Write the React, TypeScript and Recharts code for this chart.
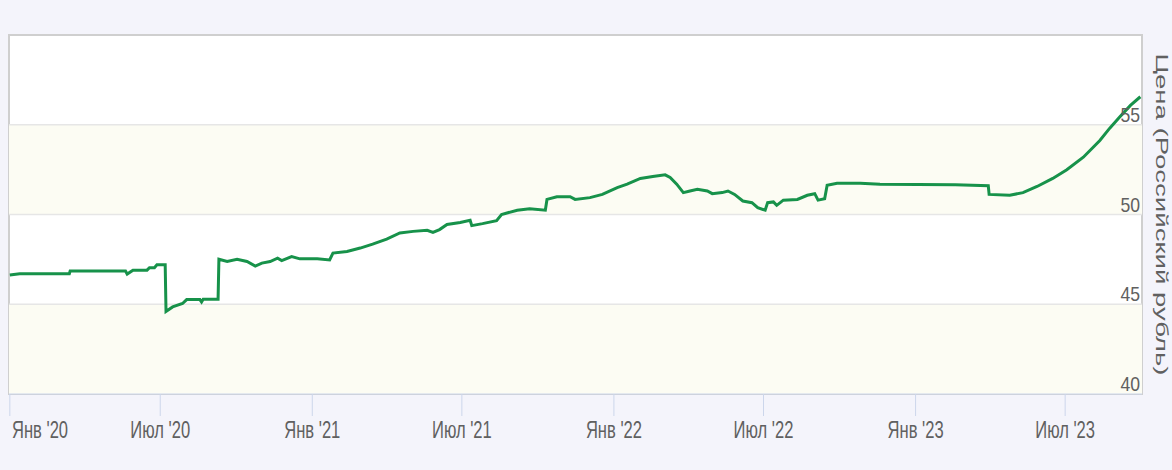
import React from 'react';
import { LineChart, Line, XAxis, YAxis, ReferenceArea, ReferenceLine, Label } from 'recharts';

const dates = [
  '2020-01-01', '2020-01-13', '2020-03-13', '2020-03-14', '2020-05-20', '2020-05-22', '2020-05-29',
  '2020-06-15', '2020-06-18', '2020-06-24', '2020-06-27', '2020-07-07', '2020-07-08', '2020-07-16',
  '2020-07-28', '2020-08-02', '2020-08-18', '2020-08-20', '2020-08-22', '2020-09-09', '2020-09-10',
  '2020-09-20', '2020-10-02', '2020-10-14', '2020-10-24', '2020-11-01', '2020-11-11', '2020-11-20',
  '2020-11-25', '2020-12-07', '2020-12-17', '2021-01-07', '2021-01-22', '2021-01-26', '2021-02-12',
  '2021-02-28', '2021-03-15', '2021-04-01', '2021-04-17', '2021-05-03', '2021-05-20', '2021-05-27',
  '2021-06-04', '2021-06-13', '2021-06-29', '2021-07-11', '2021-07-13', '2021-07-26', '2021-08-12',
  '2021-08-18', '2021-09-06', '2021-09-21', '2021-10-10', '2021-10-12', '2021-10-24', '2021-11-09',
  '2021-11-15', '2021-12-03', '2021-12-18', '2022-01-05', '2022-01-17', '2022-02-02', '2022-02-17',
  '2022-03-04', '2022-03-10', '2022-03-18', '2022-03-26', '2022-04-03', '2022-04-12', '2022-04-24',
  '2022-04-30', '2022-05-12', '2022-05-19', '2022-05-27', '2022-06-06', '2022-06-17', '2022-06-24',
  '2022-07-03', '2022-07-06', '2022-07-13', '2022-07-17', '2022-07-25', '2022-08-11', '2022-08-23',
  '2022-09-01', '2022-09-05', '2022-09-13', '2022-09-16', '2022-09-28', '2022-10-26', '2022-11-19',
  '2023-02-18', '2023-03-30', '2023-03-31', '2023-04-25', '2023-05-11', '2023-05-28', '2023-06-16',
  '2023-07-03', '2023-07-23', '2023-08-12', '2023-08-24', '2023-09-05', '2023-09-18', '2023-09-30',
];

const prices = [
  46.63, 46.70, 46.70, 46.85, 46.85, 46.68, 46.90,
  46.90, 47.04, 47.04, 47.20, 47.20, 44.60, 44.85,
  45.04, 45.26, 45.26, 45.13, 45.28, 45.28, 47.51,
  47.38, 47.51, 47.38, 47.13, 47.29, 47.38, 47.57,
  47.43, 47.66, 47.53, 47.53, 47.47, 47.85, 47.94,
  48.13, 48.35, 48.63, 48.97, 49.06, 49.12, 49.00,
  49.16, 49.44, 49.55, 49.68, 49.38, 49.49, 49.66,
  50.00, 50.24, 50.32, 50.24, 50.84, 50.99, 50.99,
  50.84, 50.94, 51.12, 51.50, 51.69, 52.01, 52.12,
  52.21, 52.06, 51.69, 51.22, 51.31, 51.40, 51.31,
  51.16, 51.22, 51.31, 51.12, 50.75, 50.66, 50.38,
  50.24, 50.66, 50.70, 50.51, 50.80, 50.84, 51.07,
  51.16, 50.80, 50.88, 51.63, 51.74, 51.74, 51.69,
  51.66, 51.60, 51.12, 51.07, 51.22, 51.56, 52.01,
  52.49, 53.19, 54.12, 54.81, 55.43, 56.08, 56.56,
];

const xTickDates = ['2020-01-01', '2020-07-01', '2021-01-01', '2021-07-01', '2022-01-01', '2022-07-01', '2023-01-01', '2023-07-01'];
const xTickLabels = ["Янв '20", "Июл '20", "Янв '21", "Июл '21", "Янв '22", "Июл '22", "Янв '23", "Июл '23"];
const yTicks = [40, 45, 50, 55];
const yBands = [[40, 45], [50, 55]];
const yDomain = [40, 60];
const xDomainDates = ['2019-12-31', '2023-10-02'];
const axisTitle = 'Цена (Российский рубль)';

const data = dates.map((d, i) => ({ t: Date.parse(d), v: prices[i] }));
const xTicks = xTickDates.map((d) => Date.parse(d));
const xDomain = xDomainDates.map((d) => Date.parse(d));

const FONT = '"Liberation Sans", Arial, sans-serif';

const XTick = (props: any) => {
  const { x, y, payload, index } = props;
  const i = xTicks.indexOf(payload.value);
  const label = i >= 0 ? xTickLabels[i] : '';
  const first = index === 0;
  return (
    <g transform={`translate(${x},${y})`}>
      <text
        x={first ? 3 : 0}
        y={22}
        textAnchor={first ? 'start' : 'middle'}
        transform="scale(0.72,1)"
        fill="#606060"
        fontSize={23}
        fontFamily={FONT}
      >
        {label}
      </text>
    </g>
  );
};

const YTick = (props: any) => {
  const { x, y, payload } = props;
  return (
    <g transform={`translate(${x - 2},${y - 3})`}>
      <text x={0} y={0} textAnchor="end" transform="scale(0.88,1)" fill="#606060" fontSize={20} fontFamily={FONT}>
        {payload.value}
      </text>
    </g>
  );
};

const TitleLabel = (props: any) => {
  const vb = props.viewBox || {};
  const cx = (vb.x || 0) + 14;
  const cy = (vb.y || 0) + (vb.height || 0) / 2;
  return (
    <text
      transform={`translate(${cx},${cy}) rotate(90)`}
      textAnchor="middle"
      fill="#606060"
      fontSize={17}
      fontFamily={FONT}
      textLength={322}
      lengthAdjust="spacingAndGlyphs"
    >
      {axisTitle}
    </text>
  );
};

export default function App() {
  return (
    <div style={{ position: 'absolute', left: 0, top: 0, width: 1172, height: 470, background: '#f4f4fb', overflow: 'hidden' }}>
      <LineChart width={1172} height={470} data={data} margin={{ top: 35, right: 0, bottom: 46, left: 9 }}>
        <ReferenceArea y1={40} y2={60} fill="#ffffff" fillOpacity={1} stroke="#cfcfcf" strokeWidth={2} />
        {yBands.map((b, i) => (
          <ReferenceArea key={i} y1={b[0]} y2={b[1]} fill="#fcfcf3" fillOpacity={1} stroke="none" />
        ))}
        {yTicks.slice(1).map((v) => (
          <ReferenceLine key={v} y={v} stroke="#e6e6e6" strokeWidth={1.5} />
        ))}
        <XAxis
          dataKey="t"
          type="number"
          scale="time"
          domain={xDomain}
          ticks={xTicks}
          tick={<XTick />}
          tickSize={22}
          tickMargin={0}
          tickLine={{ stroke: '#ccd6eb' }}
          axisLine={{ stroke: '#ccd6eb' }}
          height={30}
          interval={0}
          allowDataOverflow
        />
        <YAxis
          orientation="right"
          type="number"
          domain={yDomain}
          ticks={yTicks}
          width={30}
          tick={<YTick />}
          tickSize={0}
          tickMargin={0}
          tickLine={false}
          axisLine={false}
          interval={0}
          allowDataOverflow
        >
          <Label content={<TitleLabel />} />
        </YAxis>
        <Line
          type="linear"
          dataKey="v"
          stroke="#17924a"
          strokeWidth={3}
          dot={false}
          isAnimationActive={false}
        />
      </LineChart>
    </div>
  );
}
